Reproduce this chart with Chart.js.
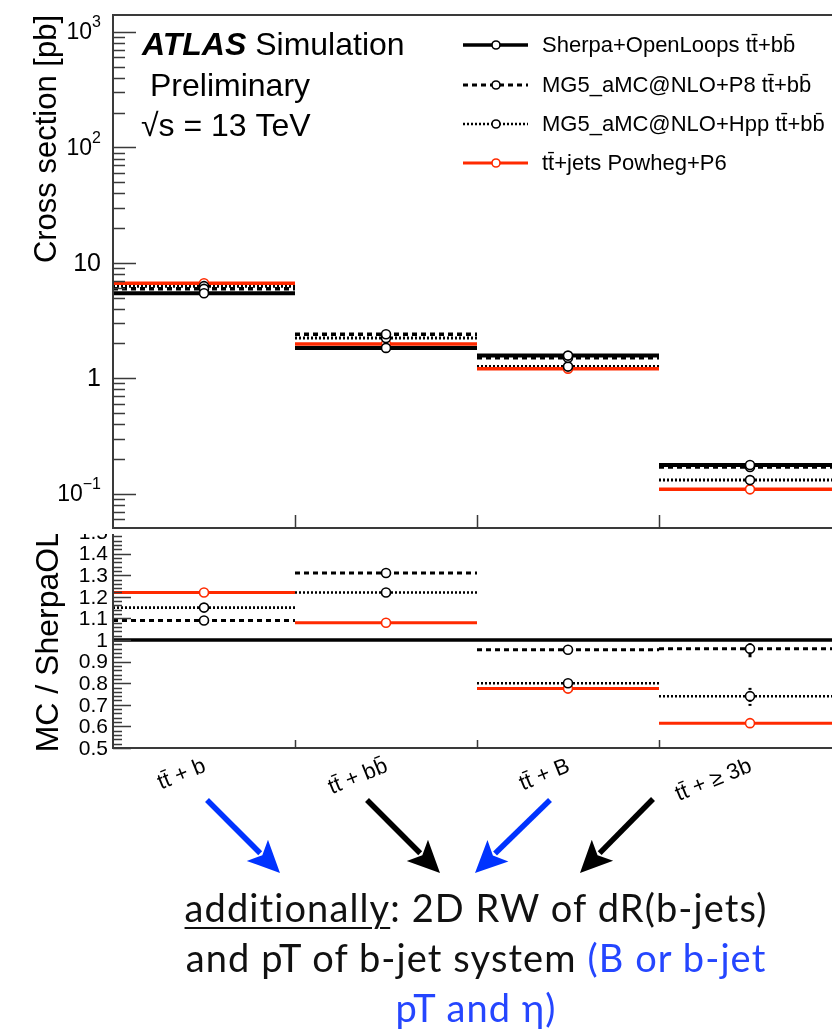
<!DOCTYPE html>
<html lang="en">
<head>
  <meta charset="UTF-8">
  <title>ttbb cross sections</title>
  <script src="https://cdn.jsdelivr.net/npm/chart.js"></script>
  <style>
    body {
      margin: 0;
      background: #fff;
      overflow: hidden;
      width: 832px;
      height: 1033px;
      position: relative;
    }
    #xsecChart { position: absolute; left: 0; top: 0; z-index: 2; }
    #ratioChart { position: absolute; left: 0; top: 517px; z-index: 1; }
    #arrows { position: absolute; left: 0; top: 0; z-index: 3; }
    .note {
      position: absolute;
      left: 136px;
      top: 882px;
      width: 680px;
      font-family: Lato, "Open Sans", sans-serif;
      font-weight: 400;
      font-size: 38px;
      letter-spacing: 1.1px;
      font-variant-ligatures: none;
      line-height: 50px;
      text-align: center;
      color: #111;
      z-index: 3;
    }
    .note u { text-decoration-thickness: 2px; text-underline-offset: 5px; }
    .blue { color: #2546ff; }
  </style>
</head>
<body>
  <canvas id="xsecChart" width="860" height="534"></canvas>
  <canvas id="ratioChart" width="860" height="300"></canvas>
  <svg id="arrows" width="832" height="1033"></svg>
  <div class="note"><u>additionally</u>: 2D RW of dR(b-jets)<br>and pT of b-jet system <span class="blue">(B or b-jet<br>pT and η)</span></div>

  <script>
    // bins and generator predictions
    const binLabels = ['tt\u0304 + b', 'tt\u0304 + bb\u0304', 'tt\u0304 + B', 'tt\u0304 + \u2265 3b'];
    const binEdges = [0, 1, 2, 3, 4];
    const seriesNames = [
      'Sherpa+OpenLoops tt\u0304+bb\u0304',
      'MG5_aMC@NLO+P8 tt\u0304+bb\u0304',
      'MG5_aMC@NLO+Hpp tt\u0304+bb\u0304',
      'tt\u0304+jets Powheg+P6'
    ];
    const xsecSherpa = [5.45, 1.83, 1.57, 0.177];
    const xsecP8 = [5.94, 2.40, 1.50, 0.170];
    const xsecHpp = [6.27, 2.23, 1.26, 0.131];
    const xsecPowheg = [6.65, 1.98, 1.21, 0.109];
    const ratioSherpa = [1, 1, 1, 1];
    const ratioP8 = [1.09, 1.31, 0.955, 0.96];
    const ratioHpp = [1.15, 1.22, 0.80, 0.74];
    const ratioPowheg = [1.22, 1.08, 0.775, 0.615];
    const ratioErrP8 = [0, 0, 0, 0.04];
    const ratioErrHpp = [0, 0, 0, 0.045];

    // axis ticks
    const xsecDecades = [0.1, 1, 10, 100, 1000];
    const xsecDecadeLabels = [['10', '\u22121'], ['1', ''], ['10', ''], ['10', '2'], ['10', '3']];
    const ratioTicks = [0.5, 0.6, 0.7, 0.8, 0.9, 1.0, 1.1, 1.2, 1.3, 1.4, 1.5];
    const ratioTickLabels = ['0.5', '0.6', '0.7', '0.8', '0.9', '1', '1.1', '1.2', '1.3', '1.4', '1.5'];

    const RED = '#ff2a00';
    const FONT = '"Liberation Sans", Arial, sans-serif';
    const styles = [
      { color: '#000', width: 4, dash: [] },
      { color: '#000', width: 3.5, dash: [5, 4] },
      { color: '#000', width: 3, dash: [2, 2] },
      { color: RED, width: 3.5, dash: [] }
    ];

    // flat segment per bin, broken between bins
    function binSegments(values) {
      const pts = [];
      values.forEach((v, i) => {
        pts.push({ x: binEdges[i], y: v }, { x: binEdges[i + 1], y: v });
        if (i < values.length - 1) pts.push({ x: binEdges[i + 1], y: null });
      });
      return pts;
    }
    function binCentres(values) {
      return values.map((v, i) => ({ x: (binEdges[i] + binEdges[i + 1]) / 2, y: v }));
    }

    function histDatasets(seriesValues, markerMask, widthScale) {
      const sets = [];
      seriesValues.forEach((vals, k) => {
        const st = styles[k];
        sets.push({
          label: seriesNames[k],
          data: binSegments(vals),
          showLine: true,
          borderColor: st.color,
          borderWidth: st.width * widthScale,
          borderDash: st.dash,
          borderCapStyle: 'butt',
          pointRadius: 0,
          order: 4 - k
        });
        if (markerMask[k]) {
          sets.push({
            label: seriesNames[k],
            data: binCentres(vals),
            showLine: false,
            pointRadius: 4.5,
            pointBorderWidth: 1.6,
            pointBackgroundColor: '#fff',
            pointBorderColor: st.color,
            order: 0
          });
        }
      });
      return sets;
    }

    function minorLogTicks(min, max) {
      const out = [];
      for (let e = -3; e <= 4; e++) {
        for (let k = 2; k <= 9; k++) {
          const v = k * Math.pow(10, e);
          if (v > min && v < max) out.push(v);
        }
      }
      return out;
    }

    function strokeFrame(ctx, a) {
      ctx.strokeStyle = '#3a3a3a';
      ctx.lineWidth = 2;
      ctx.beginPath();
      ctx.moveTo(a.right + 5, a.top);
      ctx.lineTo(a.left, a.top);
      ctx.lineTo(a.left, a.bottom);
      ctx.lineTo(a.right + 5, a.bottom);
      ctx.stroke();
    }

    const xsecAxes = {
      id: 'xsecAxes',
      beforeDraw(chart) {
        const ctx = chart.ctx;
        ctx.save();
        ctx.fillStyle = '#fff';
        ctx.fillRect(0, 0, chart.width, chart.height);
        ctx.restore();
      },
      afterDraw(chart) {
        const { ctx, chartArea: a, scales: { x, y } } = chart;
        ctx.save();
        strokeFrame(ctx, a);

        // inward ticks on the log axis
        ctx.lineWidth = 1.5;
        ctx.beginPath();
        xsecDecades.forEach(v => {
          const py = Math.round(y.getPixelForValue(v)) + 0.5;
          ctx.moveTo(a.left, py); ctx.lineTo(a.left + 23, py);
        });
        minorLogTicks(y.min, y.max).forEach(v => {
          const py = Math.round(y.getPixelForValue(v)) + 0.5;
          ctx.moveTo(a.left, py); ctx.lineTo(a.left + 12, py);
        });
        binEdges.slice(1, -1).forEach(v => {
          const px = Math.round(x.getPixelForValue(v)) + 0.5;
          ctx.moveTo(px, a.bottom); ctx.lineTo(px, a.bottom - 13);
        });
        ctx.stroke();

        // decade labels
        ctx.fillStyle = '#000';
        ctx.textBaseline = 'middle';
        ctx.textAlign = 'right';
        xsecDecades.forEach((v, i) => {
          const [base, exp] = xsecDecadeLabels[i];
          const py = y.getPixelForValue(v);
          const right = a.left - 12;
          if (exp) {
            ctx.font = '16px ' + FONT;
            const ew = ctx.measureText(exp).width;
            ctx.fillText(exp, right, py - 9);
            ctx.font = '23px ' + FONT;
            ctx.fillText(base, right - ew, py + 1);
          } else {
            ctx.font = '25px ' + FONT;
            ctx.fillText(base, right, py + 1);
          }
        });

        // axis title
        ctx.save();
        ctx.translate(56, a.top);
        ctx.rotate(-Math.PI / 2);
        ctx.textAlign = 'right';
        ctx.textBaseline = 'alphabetic';
        ctx.font = '31px ' + FONT;
        ctx.fillText('Cross section [pb]', 0, 0);
        ctx.restore();

        // experiment label
        ctx.textAlign = 'left';
        ctx.textBaseline = 'alphabetic';
        ctx.font = 'italic bold 32px ' + FONT;
        ctx.fillText('ATLAS', 142, 55);
        const w = ctx.measureText('ATLAS ').width;
        ctx.font = '32px ' + FONT;
        ctx.fillText('Simulation', 142 + w, 55);
        ctx.fillText('Preliminary', 150, 96);
        ctx.fillText('\u221As = 13 TeV', 141, 136);

        // legend
        const rows = [45, 85, 124, 163];
        ctx.font = '22px ' + FONT;
        ctx.textBaseline = 'middle';
        seriesNames.forEach((name, k) => {
          const st = styles[k];
          const ry = rows[k];
          ctx.strokeStyle = st.color;
          ctx.lineWidth = st.width * 0.9;
          ctx.setLineDash(st.dash);
          ctx.beginPath();
          ctx.moveTo(463, ry); ctx.lineTo(528, ry);
          ctx.stroke();
          ctx.setLineDash([]);
          ctx.lineWidth = 1.6;
          ctx.fillStyle = '#fff';
          ctx.beginPath();
          ctx.arc(496, ry, 4, 0, Math.PI * 2);
          ctx.fill(); ctx.stroke();
          ctx.fillStyle = '#000';
          ctx.fillText(name, 542, ry + 1);
        });
        ctx.restore();
      }
    };

    const ratioAxes = {
      id: 'ratioAxes',
      beforeDatasetsDraw(chart) {
        // statistical uncertainties on the ratios
        const { ctx, scales: { x, y } } = chart;
        ctx.save();
        [[ratioP8, ratioErrP8, styles[1]], [ratioHpp, ratioErrHpp, styles[2]]].forEach(([vals, errs, st]) => {
          vals.forEach((v, i) => {
            if (!errs[i]) return;
            const px = x.getPixelForValue((binEdges[i] + binEdges[i + 1]) / 2);
            ctx.strokeStyle = st.color;
            ctx.lineWidth = 3;
            ctx.setLineDash(st.dash);
            ctx.beginPath();
            ctx.moveTo(px, y.getPixelForValue(v - errs[i]));
            ctx.lineTo(px, y.getPixelForValue(v + errs[i]));
            ctx.stroke();
          });
        });
        ctx.restore();
      },
      afterDraw(chart) {
        const { ctx, chartArea: a, scales: { x, y } } = chart;
        ctx.save();
        strokeFrame(ctx, a);

        ctx.lineWidth = 1.5;
        ctx.beginPath();
        ratioTicks.forEach(v => {
          const py = Math.round(y.getPixelForValue(v)) + 0.5;
          ctx.moveTo(a.left, py); ctx.lineTo(a.left + 18, py);
        });
        for (let v = 0.52; v < 1.5; v += 0.02) {
          const py = Math.round(y.getPixelForValue(v)) + 0.5;
          ctx.moveTo(a.left, py); ctx.lineTo(a.left + 9, py);
        }
        binEdges.slice(1, -1).forEach(v => {
          const px = Math.round(x.getPixelForValue(v)) + 0.5;
          ctx.moveTo(px, a.bottom); ctx.lineTo(px, a.bottom - 8);
        });
        ctx.stroke();

        ctx.fillStyle = '#000';
        ctx.font = '21px ' + FONT;
        ctx.textAlign = 'right';
        ctx.textBaseline = 'middle';
        ratioTicks.forEach((v, i) => {
          ctx.fillText(ratioTickLabels[i], a.left - 5, y.getPixelForValue(v) + 1);
        });

        ctx.save();
        ctx.translate(58, a.top - 2);
        ctx.rotate(-Math.PI / 2);
        ctx.textAlign = 'right';
        ctx.textBaseline = 'alphabetic';
        ctx.font = '32px ' + FONT;
        ctx.fillText('MC / SherpaOL', 0, 0);
        ctx.restore();

        // bin labels
        ctx.font = '22px ' + FONT;
        ctx.textBaseline = 'alphabetic';
        binLabels.forEach((lab, i) => {
          const cx = x.getPixelForValue((binEdges[i] + binEdges[i + 1]) / 2);
          ctx.save();
          ctx.translate(cx + 3, a.bottom + 23);
          ctx.rotate(-22 * Math.PI / 180);
          ctx.textAlign = 'right';
          ctx.fillText(lab, 0, 0);
          ctx.restore();
        });
        ctx.restore();
      }
    };

    const baseOptions = (yScale, padding) => ({
      responsive: false,
      animation: false,
      layout: { padding },
      plugins: { legend: { display: false }, tooltip: { enabled: false } },
      scales: {
        x: { type: 'linear', min: binEdges[0], max: binEdges[binEdges.length - 1], display: false },
        y: Object.assign({
          grid: { display: false },
          border: { display: false },
          ticks: { display: false },
          afterFit(s) { s.width = 113; }
        }, yScale)
      }
    });

    new Chart(document.getElementById('xsecChart'), {
      type: 'scatter',
      data: {
        datasets: histDatasets([xsecSherpa, xsecP8, xsecHpp, xsecPowheg], [true, true, true, true], 1)
      },
      options: baseOptions({ type: 'logarithmic', min: 0.0505, max: 1400 },
        { top: 15, right: 19, bottom: 2, left: 0 }),
      plugins: [xsecAxes]
    });

    new Chart(document.getElementById('ratioChart'), {
      type: 'scatter',
      data: {
        datasets: histDatasets([ratioSherpa, ratioP8, ratioHpp, ratioPowheg], [false, true, true, true], 0.85)
      },
      options: baseOptions({ type: 'linear', min: 0.5, max: 1.5 },
        { top: 15, right: 19, bottom: 69, left: 0 }),
      plugins: [ratioAxes]
    });

    // arrows from the bin labels down to the note
    const arrows = [
      { from: [207, 800], to: [280, 873], color: '#0033ff' },
      { from: [367, 800], to: [440, 873], color: '#000' },
      { from: [550, 800], to: [475, 873], color: '#0033ff' },
      { from: [653, 799], to: [580, 873], color: '#000' }
    ];
    const svg = document.getElementById('arrows');
    const NS = 'http://www.w3.org/2000/svg';
    arrows.forEach(({ from, to, color }) => {
      const [x0, y0] = from, [x1, y1] = to;
      const len = Math.hypot(x1 - x0, y1 - y0);
      const ux = (x1 - x0) / len, uy = (y1 - y0) / len;
      const headLen = 32, headHalf = 15;
      const bx = x1 - ux * headLen, by = y1 - uy * headLen;
      const line = document.createElementNS(NS, 'line');
      line.setAttribute('x1', x0); line.setAttribute('y1', y0);
      line.setAttribute('x2', bx + ux * 4); line.setAttribute('y2', by + uy * 4);
      line.setAttribute('stroke', color); line.setAttribute('stroke-width', 5.5);
      svg.appendChild(line);
      const head = document.createElementNS(NS, 'polygon');
      const nx = bx + ux * 7, ny = by + uy * 7;
      head.setAttribute('points', [
        [x1, y1],
        [bx - uy * headHalf, by + ux * headHalf],
        [nx, ny],
        [bx + uy * headHalf, by - ux * headHalf]
      ].map(p => p.join(',')).join(' '));
      head.setAttribute('fill', color);
      svg.appendChild(head);
    });
  </script>
</body>
</html>
